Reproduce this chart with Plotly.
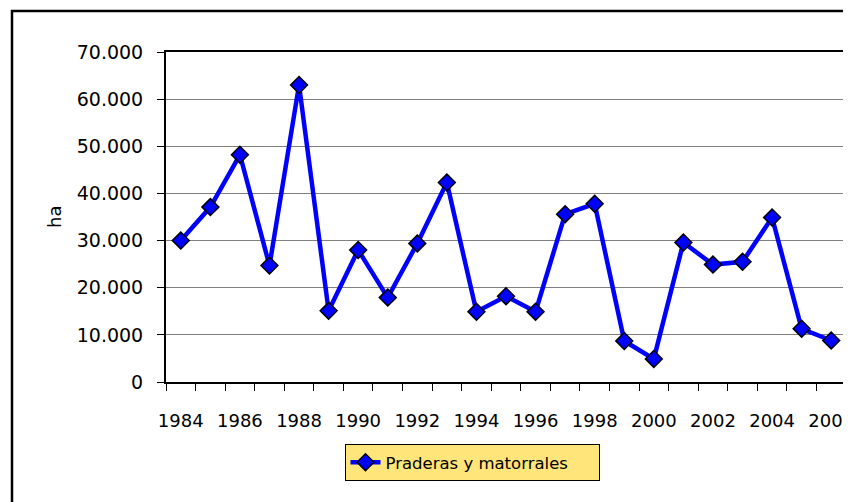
import plotly.graph_objects as go

years = list(range(1984, 2007))
hectares = [30000, 37100, 48200, 24700, 63000, 15100, 28000, 17900, 29400, 42300,
            14900, 18200, 14900, 35600, 37800, 8700, 4900, 29600, 24900, 25500,
            34900, 11300, 8800]
label_years = list(range(1984, 2007, 2))
y_ticks = [0, 10000, 20000, 30000, 40000, 50000, 60000, 70000]
series_name = "Praderas y matorrales"

boundaries = [y - 0.5 for y in years] + [years[-1] + 0.5]

FONT = "DejaVu Sans"

# page body adds an 8px offset; figure is sized to fit the 851x502 window
W, H = 843, 494
L, R, T, B = 158, 5, 44, 120
PW, PH = W - L - R, H - T - B


def px(fx):
    return (fx - L) / PW


def py(fy):
    return (H - B - fy) / PH


fig = go.Figure()
fig.add_trace(go.Scatter(
    x=years, y=hectares, mode="lines+markers", name=series_name,
    line=dict(color="#0000FF", width=4.5),
    marker=dict(symbol="diamond", size=13, color="#0000FF",
                line=dict(color="black", width=1.5)),
))
# invisible trace to hold the label axis
fig.add_trace(go.Scatter(x=years, y=hectares, xaxis="x2", mode="markers",
                         marker=dict(opacity=0), showlegend=False, hoverinfo="skip"))

fig.update_layout(
    width=W, height=H,
    margin=dict(l=L, r=R, t=T, b=B, autoexpand=False),
    paper_bgcolor="white", plot_bgcolor="white",
    separators=",.",
    font=dict(family=FONT, color="black", size=18),
    showlegend=True,
    legend=dict(
        x=px(464), y=py(436), xanchor="center", yanchor="top",
        orientation="h", entrywidth=208,
        bgcolor="#FFE57A", bordercolor="black", borderwidth=1,
        font=dict(family=FONT, size=16.5, color="black"),
    ),
    xaxis=dict(
        range=[1983.5, 2006.5],
        tickmode="array", tickvals=boundaries, showticklabels=False,
        ticks="outside", ticklen=7, tickcolor="black", tickwidth=1,
        showline=True, linecolor="black", linewidth=2, mirror=True,
        showgrid=False, zeroline=False,
    ),
    xaxis2=dict(
        overlaying="x", matches="x", anchor="y", side="bottom",
        tickmode="array", tickvals=label_years,
        ticktext=[str(v) for v in label_years],
        ticks="outside", ticklen=22, tickcolor="rgba(0,0,0,0)",
        ticklabeloverflow="allow",
        showline=False, showgrid=False, zeroline=False,
        tickfont=dict(family=FONT, size=18, color="black"),
    ),
    yaxis=dict(
        range=[0, 70000],
        tickmode="array", tickvals=y_ticks, tickformat=",d",
        ticks="outside", ticklen=7, tickcolor="black",
        ticklabelstandoff=10,
        showline=True, linecolor="black", linewidth=2, mirror=True,
        showgrid=True, gridcolor="#808080", gridwidth=1,
        zeroline=False,
        tickfont=dict(family=FONT, size=19, color="black"),
    ),
    annotations=[dict(
        text="ha", xref="paper", yref="paper", x=px(46), y=0.5,
        xanchor="center", yanchor="middle",
        textangle=-90, showarrow=False,
        font=dict(family=FONT, size=18, color="black"),
    )],
    shapes=[dict(
        type="rect", xref="paper", yref="paper",
        x0=px(4), x1=px(852), y0=py(500), y1=py(3),
        line=dict(color="black", width=2.5), fillcolor="rgba(0,0,0,0)",
        layer="below",
    )],
)

fig.write_html("out.html")
